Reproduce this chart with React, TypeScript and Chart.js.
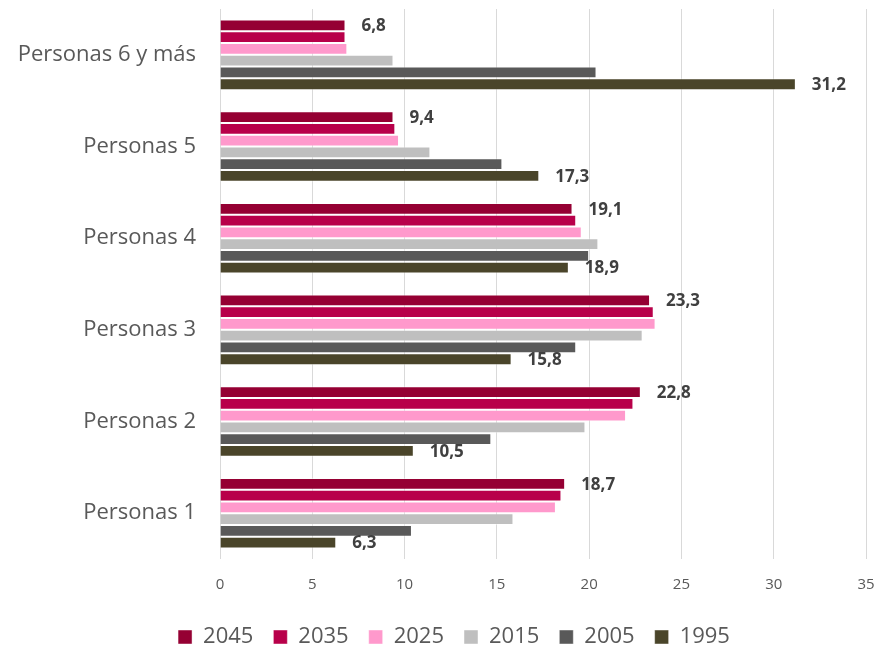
import React, { useEffect, useRef } from "react";
import { Chart, registerables } from "chart.js";

Chart.register(...registerables);

const categories = ["Personas 6 y más", "Personas 5", "Personas 4", "Personas 3", "Personas 2", "Personas 1"];
const years = ["2045", "2035", "2025", "2015", "2005", "1995"];
const v2045 = [6.8, 9.4, 19.1, 23.3, 22.8, 18.7];
const v2035 = [6.8, 9.5, 19.3, 23.5, 22.4, 18.5];
const v2025 = [6.9, 9.7, 19.6, 23.6, 22.0, 18.2];
const v2015 = [9.4, 11.4, 20.5, 22.9, 19.8, 15.9];
const v2005 = [20.4, 15.3, 20.0, 19.3, 14.7, 10.4];
const v1995 = [31.2, 17.3, 18.9, 15.8, 10.5, 6.3];
const seriesValues = [v2045, v2035, v2025, v2015, v2005, v1995];
const colors = ["#950033", "#B8004A", "#FF99CC", "#BFBFBF", "#595959", "#4A452A"];
const labeledSeries = [0, 5];
const xMin = 0;
const xMax = 35;
const xStep = 5;

const FONT = "'Open Sans', 'Noto Sans', sans-serif";

const valueLabels = {
  id: "valueLabels",
  afterDatasetsDraw(chart: any) {
    const ctx = chart.ctx;
    ctx.save();
    ctx.font = `bold 17px ${FONT}`;
    ctx.fillStyle = "#404040";
    ctx.textAlign = "left";
    ctx.textBaseline = "middle";
    labeledSeries.forEach((di) => {
      const meta = chart.getDatasetMeta(di);
      meta.data.forEach((bar: any, i: number) => {
        const v = chart.data.datasets[di].data[i] as number;
        const txt = v.toFixed(1).replace(".", ",");
        ctx.fillText(txt, bar.x + 16, bar.y + 1);
      });
    });
    ctx.restore();
  },
};

const legendShift = {
  id: "legendShift",
  afterLayout(chart: any) {
    const lg = chart.legend;
    if (lg) {
      lg.left += 21;
      lg.right += 21;
    }
  },
};

export default function App() {
  const ref = useRef<HTMLCanvasElement | null>(null);
  useEffect(() => {
    if (!ref.current) return;
    const chart = new Chart(ref.current, {
      type: "bar",
      data: {
        labels: categories,
        datasets: years.map((y, i) => ({
          label: y,
          data: seriesValues[i],
          backgroundColor: colors[i],
          borderColor: "rgba(255,255,255,0.45)",
          borderWidth: 1,
          categoryPercentage: 0.77,
          barPercentage: 1,
        })),
      },
      options: {
        indexAxis: "y",
        animation: false,
        responsive: false,
        devicePixelRatio: 1,
        layout: { padding: { top: 9, right: 9, left: 0, bottom: -10 } },
        scales: {
          x: {
            min: xMin,
            max: xMax,
            ticks: {
              stepSize: xStep,
              color: "#595959",
              font: { size: 15, family: FONT },
              padding: 17,
            },
            grid: { color: "#d9d9d9", lineWidth: 1, drawTicks: false },
            border: { display: false },
            afterFit: (scale: any) => {
              scale.height = scale.height - 5;
              scale.paddingLeft = 0;
              scale.paddingRight = 0;
            },
          },
          y: {
            ticks: {
              color: "#595959",
              font: { size: 22, family: FONT },
              padding: 24,
            },
            grid: { display: false, drawTicks: false },
            border: { display: false },
            afterFit: (scale: any) => {
              scale.width = 220;
              scale.paddingTop = 0;
              scale.paddingBottom = 0;
            },
          },
        },
        plugins: {
          legend: {
            position: "bottom",
            labels: {
              boxWidth: 14,
              boxHeight: 14,
              padding: 20,
              color: "#595959",
              font: { size: 22, family: FONT },
            },
          },
          tooltip: { enabled: false },
        },
      },
      plugins: [valueLabels, legendShift],
    });
    return () => chart.destroy();
  }, []);
  return (
    <div style={{ position: "fixed", left: 0, top: 0, width: 875, height: 648 }}>
      <canvas ref={ref} width={875} height={648} />
    </div>
  );
}
